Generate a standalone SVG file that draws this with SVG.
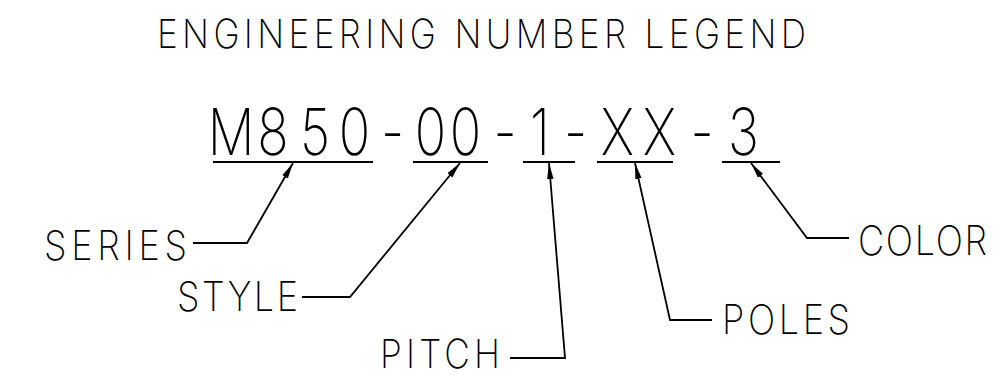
<svg xmlns="http://www.w3.org/2000/svg" width="1006" height="376" viewBox="0 0 1006 376">
<style>
.t{font-family:Inter,"Liberation Sans","DejaVu Sans",sans-serif;font-weight:200;fill:#000}
.big{font-weight:150}
.ln{fill:none;stroke:#000;stroke-width:1.8}
.ul{stroke:#000;stroke-width:2}
</style>
<defs>
<marker id="ah" markerUnits="userSpaceOnUse" viewBox="0 -4 17 8" refX="16" refY="0" markerWidth="17" markerHeight="8" orient="auto">
<path d="M0,-3.2 L16,0 L0,3.2 z" fill="#000"/>
</marker>
</defs>
<rect width="1006" height="376" fill="#fff"/>
<g id="title" transform="scale(0.88 1)">
<text class="t" x="178.4" y="48" font-size="40" textLength="737.5" lengthAdjust="spacing">ENGINEERING NUMBER LEGEND</text>
</g>
<g id="number">
<g transform="scale(0.8 1)">
<text class="t big" y="155" font-size="65" text-anchor="middle" x="288.75 341.25 393.75 443.1 490.6 538.1 581.9 631.25 675 719.4 771.9 824.4 877.5 929.4">M850-00-1-XX-3</text>
</g>
<line class="ul" x1="213" y1="162" x2="373" y2="162"/>
<line class="ul" x1="413" y1="162" x2="488" y2="162"/>
<line class="ul" x1="523" y1="162" x2="575" y2="162"/>
<line class="ul" x1="597" y1="162" x2="673" y2="162"/>
<line class="ul" x1="722" y1="162" x2="780" y2="162"/>
</g>
<g id="series" transform="scale(0.88 1)"><text class="t" x="50" y="260" font-size="41" textLength="162.5" lengthAdjust="spacing">SERIES</text></g>
<g id="style" transform="scale(0.88 1)"><text class="t" x="201.1" y="311" font-size="41" textLength="137.5" lengthAdjust="spacing">STYLE</text></g>
<g id="pitch" transform="scale(0.88 1)"><text class="t" x="431.8" y="368" font-size="40" textLength="136.4" lengthAdjust="spacing">PITCH</text></g>
<g id="poles" transform="scale(0.88 1)"><text class="t" x="820.5" y="334" font-size="41" textLength="145.5" lengthAdjust="spacing">POLES</text></g>
<g id="color" transform="scale(0.88 1)"><text class="t" x="975" y="255" font-size="41" textLength="146.6" lengthAdjust="spacing">COLOR</text></g>
<g id="connectors">
<polyline class="ln" points="193,243 247,243 293,163" marker-end="url(#ah)"/>
<polyline class="ln" points="302,297 350,297 460,163" marker-end="url(#ah)"/>
<polyline class="ln" points="510,358 565,358 549,163" marker-end="url(#ah)"/>
<polyline class="ln" points="712,320 670,320 635,163" marker-end="url(#ah)"/>
<polyline class="ln" points="849,238 807,238 751,163" marker-end="url(#ah)"/>
</g>
</svg>
